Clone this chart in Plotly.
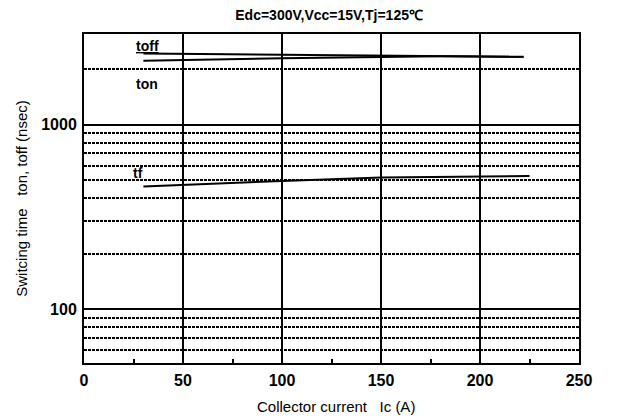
import plotly.graph_objects as go
import math

# Data
ic_toff = [30, 100, 180, 222]
toff = [2430, 2400, 2360, 2330]
ic_ton = [30, 100, 180, 222]
ton = [2220, 2290, 2350, 2330]
ic_tf = [30, 50, 100, 150, 200, 225]
tf = [462, 472, 495, 517, 525, 527]

x_ticks = [0, 50, 100, 150, 200, 250]
y_major = [100, 1000]
y_minor = [60, 70, 80, 90, 200, 300, 400, 500, 600, 700, 800, 900, 2000]

fig = go.Figure()
for xs, ys in [(ic_toff, toff), (ic_ton, ton), (ic_tf, tf)]:
    fig.add_trace(go.Scatter(x=xs, y=ys, mode="lines",
                             line=dict(color="black", width=2), showlegend=False))

lab_font = dict(family="Liberation Sans", size=14, color="black")
fig.add_annotation(x=32, y=math.log10(2670), text="<b><u>toff</u></b>", showarrow=False, font=lab_font)
fig.add_annotation(x=32, y=math.log10(1670), text="<b>ton</b>", showarrow=False, font=lab_font)
fig.add_annotation(x=27.5, y=math.log10(550), text="<b>tf</b>", showarrow=False, font=lab_font)
fig.add_annotation(xref="paper", yref="paper", x=0.51, y=-0.131, yanchor="middle",
                   text="Collector current   Ic (A)", showarrow=False,
                   font=dict(family="Liberation Sans", size=15, color="black"))

fig.update_layout(
    width=621, height=419,
    margin=dict(l=84, r=42, t=34, b=56),
    paper_bgcolor="white", plot_bgcolor="white",
    title=dict(text="<b>Edc=300V,Vcc=15V,Tj=125℃</b>", x=0.53, xanchor="center",
               y=0.965, yanchor="middle",
               font=dict(family="Liberation Sans", size=14, color="black")),
    font=dict(family="Liberation Sans", color="black"),
)
fig.update_xaxes(
    range=[0, 250], tickvals=x_ticks, ticktext=[f"<b>{v}</b>" for v in x_ticks],
    showgrid=True, gridcolor="black", gridwidth=2,
    showline=True, linecolor="black", linewidth=2, mirror=True,
    ticks="", tickfont=dict(size=16, family="Liberation Sans"), ticklabelstandoff=2,
    minor=dict(tickvals=[25, 75, 125, 175, 225], ticks="inside", ticklen=4,
               tickcolor="black", tickwidth=1.5, showgrid=False),
    zeroline=False, automargin=False,
)
fig.update_yaxes(
    type="log", range=[math.log10(51), math.log10(3100)],
    tickvals=y_major, ticktext=[f"<b>{v}</b>" for v in y_major],
    showgrid=True, gridcolor="black", gridwidth=2,
    showline=True, linecolor="black", linewidth=2, mirror=True,
    ticks="", tickfont=dict(size=16, family="Liberation Sans"), ticklabelstandoff=2,
    minor=dict(tickvals=y_minor, showgrid=True, griddash="3px,1px",
               gridcolor="black", gridwidth=1.5, ticks=""),
    title=dict(text="Switcing time   ton, toff (nsec)", font=dict(size=15), standoff=10),
    zeroline=False, automargin=False,
)

fig.write_html("out.html", config={"displayModeBar": False},
               post_script="document.body.style.margin='0';")
